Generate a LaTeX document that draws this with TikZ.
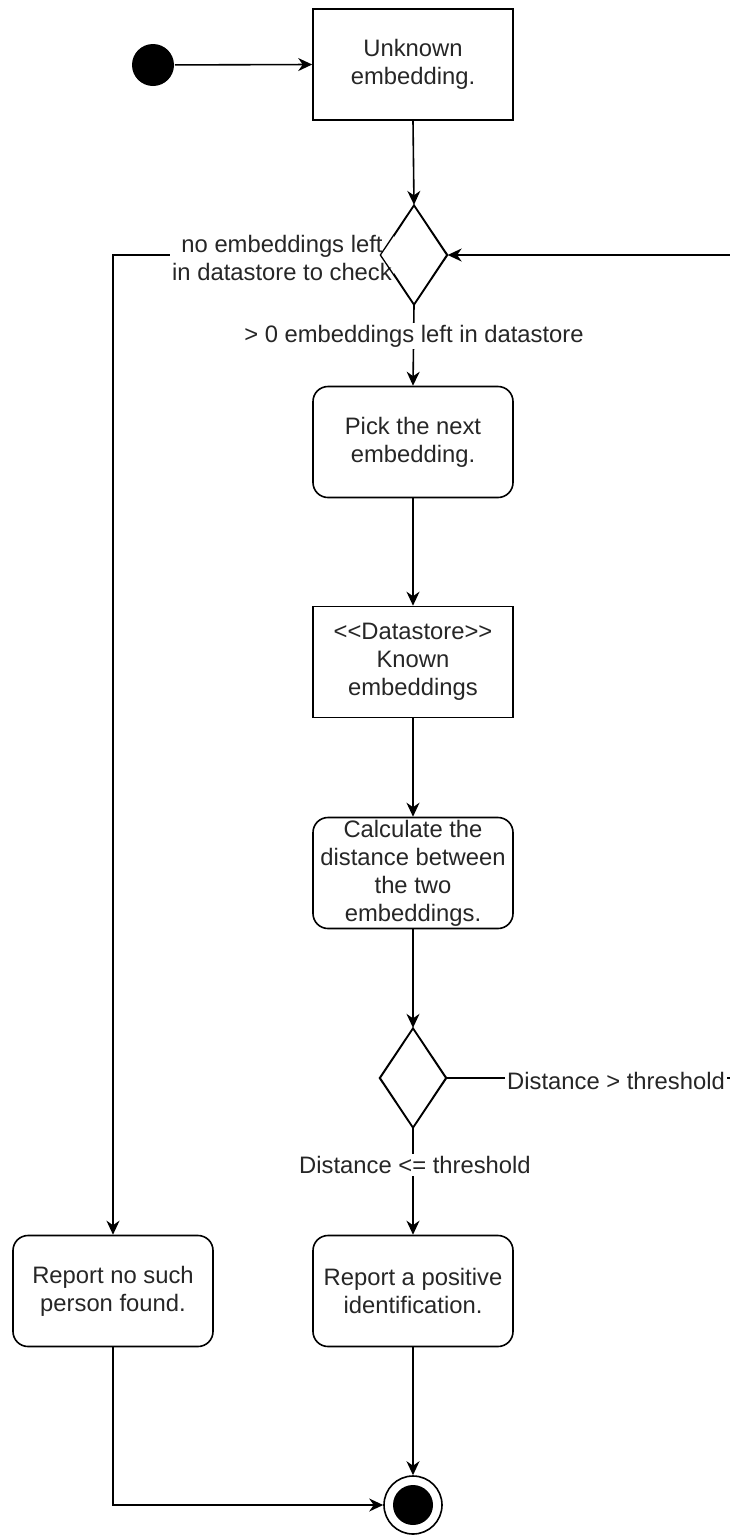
\documentclass[tikz,border=0pt]{standalone}
\usepackage{fontspec}
\setmainfont{Liberation Sans}
\usetikzlibrary{arrows.meta,shapes.geometric}
\definecolor{txt}{HTML}{262626}

\begin{document}
\begin{tikzpicture}[x=1pt,y=-1pt,
  line width=1.6pt,
  every node/.style={font=\fontsize{23.8}{28}\selectfont, text=txt},
  box/.style={draw, rectangle, minimum width=200pt, minimum height=111pt,
    inner sep=0pt, align=center},
  act/.style={box, rounded corners=15pt},
  decision/.style={draw, diamond, minimum width=66pt, minimum height=99pt,
    inner sep=0pt, line width=1.3pt},
  flow/.style={-{Stealth[length=14pt,width=13pt,inset=4.5pt]}},
  guard/.style={fill=white, inner sep=2pt, align=center}]

\useasboundingbox (0,0) rectangle (729,1535);

% states
\node[circle, fill=black, minimum size=42pt, inner sep=0pt] (start) at (153,65) {};
\node[box] (unk) at (413,64.5) {Unknown\\embedding.};
\node[decision] (d1) at (414,255) {};
\node[act] (pick) at (413,442) {Pick the next\\embedding.};
\node[box] (ds) at (413,662) {<{}<Datastore>{}>\\Known\\embeddings};
\node[act] (calc) at (413,873) {Calculate the\\distance between\\the two\\embeddings.};
\node[decision] (d2) at (413,1078) {};
\node[act] (pos) at (413,1291) {Report a positive\\identification.};
\node[act] (none) at (113,1291) {Report no such\\person found.};
\node[circle, draw, minimum size=58pt, inner sep=0pt] (final) at (413,1505) {};
\fill (final.center) circle (20pt);

% transitions
\coordinate (bendL) at (113,255);
\coordinate (loopA) at (745,1078);
\coordinate (loopB) at (745,255);

\draw[flow] (start) -- (unk.west);
\draw[flow] (unk.south) -- (d1.north);
\draw[flow] (d1.west) -- (bendL) -- (none.north);
\draw[flow] (d1.south) -- (pick.north);
\draw[flow] (pick.south) -- (ds.north);
\draw[flow] (ds.south) -- (calc.north);
\draw[flow] (calc.south) -- (d2.north);
\draw[flow] (d2.east) -- (loopA) -- (loopB) -- (d1.east);
\draw[flow] (d2.south) -- (pos.north);
\draw[flow] (pos.south) -- (final.north);
\draw[flow] (none.south) |- (final.west);

% guard labels
\node[guard] (gNone) at (282,258) {no embeddings left\\in datastore to check};
\node[guard] (gMore) at (414,336) {> 0 embeddings left in datastore};
\node[guard] (gFar) at (616,1081) {Distance > threshold};
\node[guard] (gNear) at (415,1165) {Distance <= threshold};

% decision outlines on top of the labels
\draw[line width=1.3pt] (d1.north) -- (d1.east) -- (d1.south) -- (d1.west) -- cycle;
\draw[line width=1.3pt] (d2.north) -- (d2.east) -- (d2.south) -- (d2.west) -- cycle;
\end{tikzpicture}
\end{document}
